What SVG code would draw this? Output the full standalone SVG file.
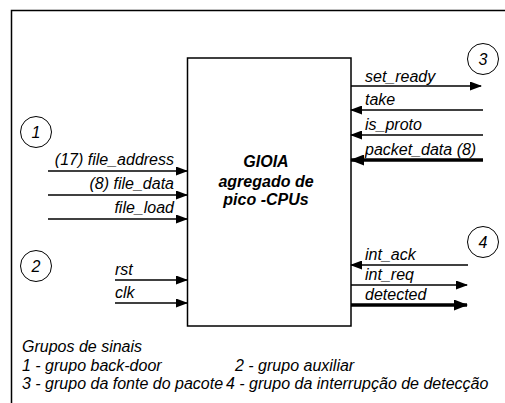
<svg xmlns="http://www.w3.org/2000/svg" width="505" height="403" viewBox="0 0 505 403">
<style>
  .t { font-family: "Liberation Sans", Arial, sans-serif; font-style: italic; font-size: 16px; fill: #000; }
  .b { font-weight: bold; }
  .w { stroke: #000; stroke-width: 1.6; fill: none; }
  .k { stroke: #000; stroke-width: 3.5; fill: none; }
  .c { stroke: #000; stroke-width: 1; fill: #fff; }
</style>
<defs>
  <marker id="ah" markerUnits="userSpaceOnUse" markerWidth="12" markerHeight="9" refX="11" refY="4.5" orient="auto">
    <path d="M0,0 L12,4.5 L0,9 Z" fill="#000"/>
  </marker>
  <marker id="ahk" markerUnits="userSpaceOnUse" markerWidth="14" markerHeight="11" refX="13" refY="5.5" orient="auto">
    <path d="M0,0 L14,5.5 L0,11 Z" fill="#000"/>
  </marker>
</defs>
<rect width="505" height="403" fill="#fff"/>
<g id="frame">
  <path d="M11.5,403 V10.5 H505" stroke="#000" stroke-width="1.5" fill="none"/>
</g>
<g id="gioia">
  <rect x="187.5" y="58" width="163.5" height="268" fill="#fff" stroke="#000" stroke-width="1.5"/>
  <text class="t b" x="266" y="167" text-anchor="middle" font-size="20">GIOIA</text>
  <text class="t b" x="266" y="187" text-anchor="middle">agregado de</text>
  <text class="t b" x="266" y="205" text-anchor="middle">pico -CPUs</text>
</g>
<g id="group1">
  <circle class="c" cx="36" cy="132" r="15.5"/>
  <text class="t" x="36" y="138" text-anchor="middle">1</text>
</g>
<g id="group2">
  <circle class="c" cx="36" cy="266" r="15.5"/>
  <text class="t" x="36" y="272" text-anchor="middle">2</text>
</g>
<g id="group3">
  <circle class="c" cx="483" cy="59" r="15.5"/>
  <text class="t" x="483" y="65" text-anchor="middle">3</text>
</g>
<g id="group4">
  <circle class="c" cx="483" cy="242" r="15.5"/>
  <text class="t" x="483" y="248" text-anchor="middle">4</text>
</g>
<g id="connectors">
  <line class="w" x1="48" y1="171" x2="187" y2="171" marker-end="url(#ah)"/>
  <line class="w" x1="48" y1="195" x2="187" y2="195" marker-end="url(#ah)"/>
  <line class="w" x1="48" y1="219" x2="187" y2="219" marker-end="url(#ah)"/>
  <line class="w" x1="115" y1="280" x2="187" y2="280" marker-end="url(#ah)"/>
  <line class="w" x1="115" y1="303" x2="187" y2="303" marker-end="url(#ah)"/>
  <line class="w" x1="351" y1="86" x2="481" y2="86" marker-end="url(#ah)"/>
  <line class="w" x1="483" y1="110" x2="351" y2="110" marker-end="url(#ah)"/>
  <line class="w" x1="483" y1="135" x2="351" y2="135" marker-end="url(#ah)"/>
  <line class="k" x1="483" y1="160" x2="351" y2="160" marker-end="url(#ahk)"/>
  <line class="w" x1="468" y1="265" x2="351" y2="265" marker-end="url(#ah)"/>
  <line class="w" x1="351" y1="285" x2="467" y2="285" marker-end="url(#ah)"/>
  <line class="k" x1="351" y1="305" x2="467" y2="305" marker-end="url(#ahk)"/>
</g>
<g id="labels">
  <text class="t" x="174" y="165" text-anchor="end">(17) file_address</text>
  <text class="t" x="174" y="189" text-anchor="end">(8) file_data</text>
  <text class="t" x="174" y="213" text-anchor="end">file_load</text>
  <text class="t" x="115" y="275">rst</text>
  <text class="t" x="115" y="298">clk</text>
  <text class="t" x="365" y="82">set_ready</text>
  <text class="t" x="365" y="105">take</text>
  <text class="t" x="365" y="130">is_proto</text>
  <text class="t" x="365" y="155">packet_data (8)</text>
  <text class="t" x="365" y="260">int_ack</text>
  <text class="t" x="365" y="280">int_req</text>
  <text class="t" x="365" y="300">detected</text>
</g>
<g id="legend">
  <text class="t" x="22" y="352">Grupos de sinais</text>
  <text class="t" x="22" y="370.5">1 - grupo back-door</text>
  <text class="t" x="235" y="370.5">2 - grupo auxiliar</text>
  <text class="t" x="22" y="389">3 - grupo da fonte do pacote</text>
  <text class="t" x="226" y="389">4 - grupo da interrupção de detecção</text>
</g>
</svg>
